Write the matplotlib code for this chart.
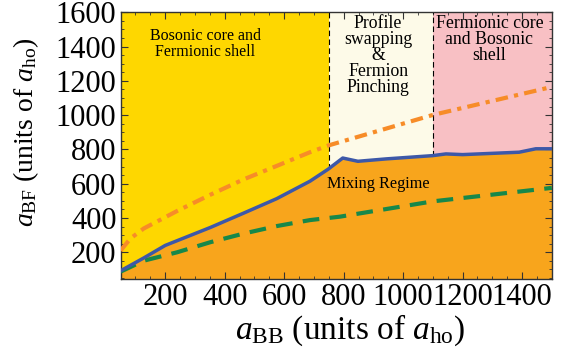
import numpy as np
import matplotlib
matplotlib.use("Agg")
import matplotlib.pyplot as plt

plt.rcParams['font.family'] = ['Liberation Serif', 'DejaVu Serif']
plt.rcParams['mathtext.fontset'] = 'custom'
plt.rcParams['mathtext.rm'] = 'Liberation Serif'
plt.rcParams['mathtext.it'] = 'Liberation Serif:italic'

# 境界線 (blue): a_BB vs a_BF
blue_x = [50, 128, 200, 352, 463, 575, 687, 748, 797, 848, 943, 1099, 1144, 1200, 1390, 1446, 1500]
blue_y = [92, 167, 240, 345, 428, 513, 615, 685, 750, 731, 745, 764, 774, 770, 784, 804, 804]

# orange dash-dot
orange_x = [50, 83, 128, 240, 352, 463, 575, 687, 748, 1099, 1500]
orange_y = [210, 280, 339, 441, 536, 625, 704, 784, 823, 1001, 1165]

# green dashed
green_x = [50, 128, 240, 352, 463, 575, 687, 788, 1099, 1500]
green_y = [87, 151, 200, 259, 309, 353, 388, 408, 497, 576]

region_edges = [50, 750, 1100, 1500]
region_colors = ['#FED700', '#FDFAE8', '#F8C0C4']
mix_color = '#F8A51C'

fig = plt.figure(figsize=(5.66, 3.53), dpi=100)
ax = fig.add_axes([0.213, 0.21, 0.762, 0.755])

for i in range(3):
    ax.axvspan(region_edges[i], region_edges[i + 1], color=region_colors[i], lw=0, zorder=0)

ax.fill_between(blue_x, 0, blue_y, color=mix_color, lw=0, zorder=1)

# 境界の破線
for xv in region_edges[1:3]:
    yb = np.interp(xv, blue_x, blue_y)
    ax.plot([xv, xv], [yb, 1600], color='black', lw=0.8, ls=(0, (5, 3)), zorder=2)

ax.plot(orange_x, orange_y, color='#F78C28', lw=3, ls=(0, (3, 1.5, 1, 1.5)), zorder=3)
ax.plot(green_x, green_y, color='#17884A', lw=3, ls=(0, (4, 2.5)), zorder=3)
ax.plot(blue_x, blue_y, color='#3D58A8', lw=2.5, zorder=4)

ax.text(335, 1415, 'Bosonic core and\nFermionic shell', ha='center', va='center',
        fontsize=11.5, linespacing=1.0)
ax.text(916, 1350, 'Profile\nswapping\n&\nFermion\nPinching', ha='center', va='center',
        fontsize=12.8, linespacing=0.92)
ax.text(1290, 1440, 'Fermionic core\nand Bosonic\nshell', ha='center', va='center',
        fontsize=12.8, linespacing=0.92)
ax.text(918, 600, 'Mixing Regime', ha='center', va='center', fontsize=11.7)

ax.set_xlim(50, 1500)
ax.set_ylim(45, 1600)
ax.set_xticks([200, 400, 600, 800, 1000, 1200, 1400])
ax.set_yticks([200, 400, 600, 800, 1000, 1200, 1400, 1600])
ax.set_xticks(np.arange(50, 1501, 50), minor=True)
ax.set_yticks(np.arange(50, 1601, 50), minor=True)
ax.tick_params(which='both', direction='in', top=True, right=True, color='#333333')
ax.tick_params(which='major', length=5, width=0.8, labelsize=22, pad=3)
ax.tick_params(which='minor', length=2.5, width=0.6)
for s in ax.spines.values():
    s.set_color('#333333')
    s.set_linewidth(1.0)

ax.set_xlabel(r'$a_{\rm BB}$ (units of $a_{\rm ho}$)', fontsize=24)
ax.set_ylabel(r'$a_{\rm BF}$ (units of $a_{\rm ho}$)', fontsize=20)
ax.xaxis.set_label_coords(0.532, -0.125)
ax.yaxis.set_label_coords(-0.185, 0.55)

fig.savefig('out.png', dpi=100)
